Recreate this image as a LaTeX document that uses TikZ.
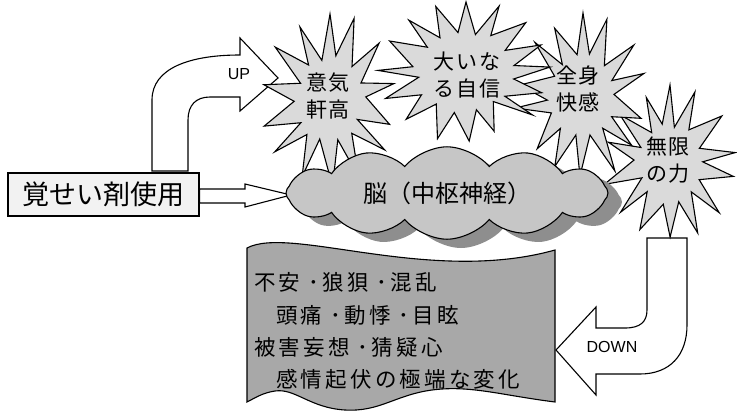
\documentclass[tikz,border=0pt]{standalone}
\usepackage{fontspec}
\newfontfamily\jp{Noto Sans CJK JP}
\newfontfamily\jpsp[LetterSpace=15]{Noto Sans CJK JP}
\newfontfamily\jpst[LetterSpace=8]{Noto Sans CJK JP}
\newfontfamily\lat{Liberation Sans}
\usetikzlibrary{shapes.symbols}
\definecolor{starfill}{HTML}{DADADA}
\definecolor{cloudfill}{HTML}{C6C6C6}
\definecolor{cloudshadow}{HTML}{8E8E8E}
\definecolor{tapefill}{HTML}{A8A8A8}
\definecolor{boxfill}{HTML}{F2F2F2}
\tikzset{
  outline/.style={draw=black, line width=1.1pt, line join=miter, miter limit=20},
  burstst/.style={outline, fill=starfill},
  blockarrow/.style={outline, fill=white},
  startext/.style={font=\jpst\fontsize{21}{27}\selectfont, align=center, inner sep=0pt},
  tapetext/.style={font=\jpsp\fontsize{21.5}{26}\selectfont, anchor=west, inner sep=0pt},
  labeltext/.style={font=\lat\fontsize{16}{18}\selectfont, inner sep=0pt},
  brainshape/.style={cloud, cloud puffs=12, cloud puff arc=100, aspect=3.6,
    minimum width=322pt, minimum height=92pt, inner sep=0pt}
}
\newcommand\burst[7]{%
  \pgfmathsetseed{#6}%
  \pgfmathtruncatemacro\burstn{2*#5-1}%
  \begin{scope}[shift={(#1,#2)}, x=#3pt, y=#4pt]
    \filldraw[burstst] (90:1.0) \foreach \k in {1,...,\burstn} {
      -- ({90+\k*180/#5+5*rand}:{ifthenelse(isodd(\k),#7*(0.9+0.2*rnd),0.9+0.15*rnd)})
    } -- cycle;
  \end{scope}}
\begin{document}
\begin{tikzpicture}[x=1pt,y=-1pt]
\useasboundingbox (0,0) rectangle (737,416);

% symptom tape
\filldraw[outline, fill=tapefill] (247,248) .. controls (290,225) and (430,285) .. (555,250)
  -- (555,402) .. controls (500,395) and (470,385) .. (432,390)
  .. controls (395,395) and (380,412) .. (345,410)
  .. controls (310,408) and (295,388) .. (275,391)
  .. controls (262,393) and (255,398) .. (247,402) -- cycle;

% box
\node[outline, fill=boxfill, minimum width=191pt, minimum height=43pt, inner sep=0pt,
  font=\jp\fontsize{27}{30}\selectfont] (drug) at (103.5,194.5) {覚せい剤使用};

% UP arrow
\filldraw[blockarrow] (152,171) -- (152,100) .. controls (152,68) and (190,55) .. (240,55)
  -- (240,38) -- (278,78) -- (240,111) -- (240,97) -- (210,97)
  .. controls (196,97) and (188,105) .. (188,120) -- (188,171) -- cycle;
\node[labeltext] (up) at (239,74) {UP};

% arrow box -> brain
\filldraw[blockarrow] (drug.east |- 0,189) -- (245,189) -- (245,184) -- (291,195)
  -- (245,207) -- (245,203) -- (drug.east |- 0,203) -- cycle;

% DOWN arrow
\filldraw[blockarrow] (647,238) -- (647,310) .. controls (647,322) and (640,328) .. (625,328)
  -- (596,328) -- (596,307) -- (556,350) -- (596,395) -- (596,374) -- (640,374)
  .. controls (670,374) and (687,355) .. (687,325) -- (687,238) -- cycle;
\node[labeltext] (down) at (612,347) {DOWN};

% bursts
\burst{670}{163}{66}{78}{14}{41}{0.5}
\burst{583}{97}{66}{84}{14}{7}{0.5}
\burst{466}{72}{86}{70}{16}{23}{0.58}
\burst{330}{100}{68}{86}{14}{5}{0.5}

% brain cloud
\node[brainshape, fill=cloudshadow] (brainshadow) at (461,202) {};
\node[brainshape, outline, fill=cloudfill, font=\jp\fontsize{24}{28}\selectfont] (brain) at (447,193) {脳（中枢神経）};

% burst texts
\node[startext] (s1) at (328,96) {意気\\軒高};
\node[startext] (s2) at (467,75) {大いな\\る自信};
\node[startext] (s3) at (578,89) {全身\\快感};
\node[startext] (s4) at (668,160) {無限\\の力};

% tape texts
\node[tapetext] (t1) at (254,282) {不安 ･狼狽 ･混乱};
\node[tapetext] (t2) at (276,315) {頭痛 ･動悸 ･目眩};
\node[tapetext] (t3) at (254,347) {被害妄想 ･猜疑心};
\node[tapetext] (t4) at (276,379) {感情起伏の極端な変化};
\end{tikzpicture}
\end{document}
